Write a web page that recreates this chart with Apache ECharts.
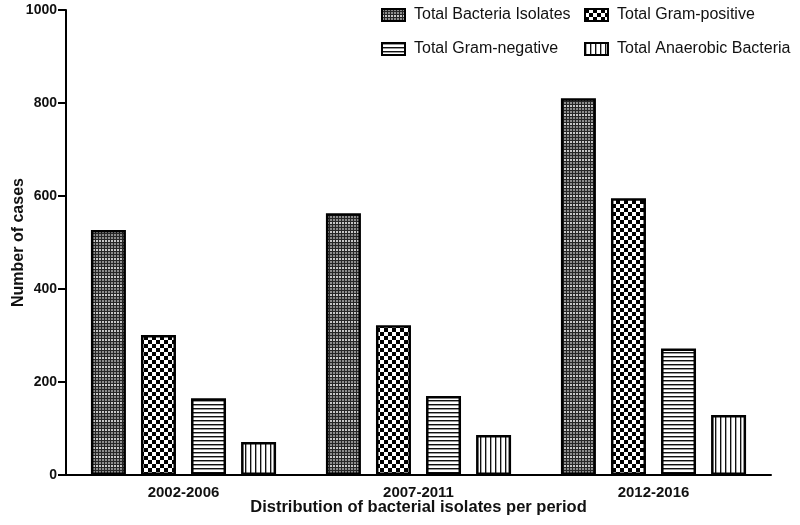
<!DOCTYPE html>
<html>
<head>
<meta charset="utf-8">
<script src="https://cdn.jsdelivr.net/npm/echarts@6/dist/echarts.min.js"></script>
<style>
  html, body { margin: 0; padding: 0; background: #fff; }
  #chart { width: 800px; height: 525px; }
</style>
</head>
<body>
<div id="chart"></div>
<script>
const periods = ["2002-2006", "2007-2011", "2012-2016"];
const bacteriaIsolates = [527, 563, 810];
const gramPositive = [301, 322, 595];
const gramNegative = [165, 170, 272];
const anaerobic = [71, 86, 129];
const yTicks = [0, 200, 400, 600, 800, 1000];

// small canvas tiles used as fill patterns
function makeTile(w, h, draw) {
  const c = document.createElement("canvas");
  c.width = w;
  c.height = h;
  const ctx = c.getContext("2d");
  ctx.fillStyle = "#fff";
  ctx.fillRect(0, 0, w, h);
  draw(ctx);
  return { image: c, repeat: "repeat" };
}

const finePattern = makeTile(3, 9, (ctx) => {
  ctx.fillStyle = "#262626";
  ctx.fillRect(0, 0, 3, 9);
  for (let y = 0; y < 9; y += 3) {
    ctx.fillStyle = y === 6 ? "#c8c8c8" : "#8c8c8c";
    ctx.fillRect(0, y, 2, 2);
  }
});

const checkPattern = makeTile(8, 8, (ctx) => {
  ctx.fillStyle = "#000";
  ctx.fillRect(0, 0, 4, 4);
  ctx.fillRect(4, 4, 4, 4);
});

const hLinePattern = makeTile(4, 4, (ctx) => {
  ctx.fillStyle = "#111";
  ctx.fillRect(0, 0, 4, 1);
  ctx.fillStyle = "#999";
  ctx.fillRect(0, 1, 4, 1);
});

const vLinePattern = makeTile(5, 4, (ctx) => {
  ctx.fillStyle = "#111";
  ctx.fillRect(0, 0, 1, 4);
  ctx.fillStyle = "#aaa";
  ctx.fillRect(1, 0, 1, 4);
});

const font = "'Liberation Sans', Arial, sans-serif";

function barSeries(name, data, pattern) {
  return {
    name: name,
    type: "bar",
    data: data,
    barWidth: 35,
    barGap: "43%",
    itemStyle: {
      color: pattern,
      borderColor: "#000",
      borderWidth: 2.5,
    },
  };
}

const chart = echarts.init(document.getElementById("chart"), null, { renderer: "canvas" });

const legendBase = {
  orient: "vertical",
  top: 2,
  icon: "rect",
  itemWidth: 23,
  itemHeight: 12,
  itemGap: 18,
  textStyle: { fontFamily: font, fontSize: 16, color: "#111", padding: [0, 0, 0, 4] },
};

chart.setOption({
  animation: false,
  backgroundColor: "#fff",
  grid: { left: 66, right: 29, top: 10, bottom: 50, outerBoundsMode: "none" },
  legend: [
    Object.assign({}, legendBase, {
      left: 376,
      data: ["Total Bacteria Isolates", "Total Gram-negative"],
    }),
    Object.assign({}, legendBase, {
      left: 579,
      data: ["Total Gram-positive", "Total Anaerobic Bacteria"],
    }),
  ],
  xAxis: {
    type: "category",
    data: periods,
    name: "Distribution of bacterial isolates per period",
    nameLocation: "middle",
    nameGap: 24,
    nameMoveOverlap: false,
    nameTextStyle: { fontFamily: font, fontSize: 16.5, fontWeight: "bold", color: "#111" },
    axisLine: { lineStyle: { color: "#000", width: 2 } },
    axisTick: { alignWithLabel: true, length: 6, lineStyle: { color: "#000", width: 2 } },
    axisLabel: { fontFamily: font, fontSize: 15, fontWeight: "bold", color: "#111", margin: 10 },
  },
  yAxis: {
    type: "value",
    min: 0,
    max: 1000,
    interval: 200,
    name: "Number of cases",
    nameLocation: "middle",
    nameGap: 39,
    nameMoveOverlap: false,
    nameTextStyle: { fontFamily: font, fontSize: 16, fontWeight: "bold", color: "#111" },
    axisLine: { show: true, lineStyle: { color: "#000", width: 2 } },
    axisTick: { show: true, length: 8, lineStyle: { color: "#000", width: 2 } },
    axisLabel: {
      fontFamily: font,
      fontSize: 14,
      fontWeight: "bold",
      color: "#111",
      margin: 9,
      formatter: (v) => (yTicks.includes(v) ? String(v) : ""),
    },
    splitLine: { show: false },
  },
  series: [
    barSeries("Total Bacteria Isolates", bacteriaIsolates, finePattern),
    barSeries("Total Gram-positive", gramPositive, checkPattern),
    barSeries("Total Gram-negative", gramNegative, hLinePattern),
    barSeries("Total Anaerobic Bacteria", anaerobic, vLinePattern),
  ],
});
</script>
</body>
</html>
